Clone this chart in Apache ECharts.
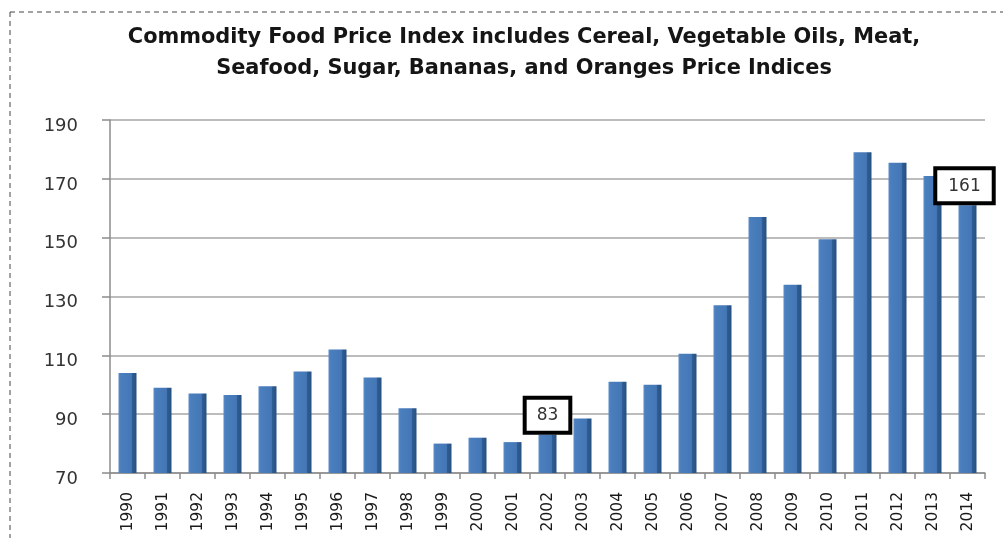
<!DOCTYPE html>
<html>
<head>
<meta charset="utf-8">
<script src="https://cdn.jsdelivr.net/npm/echarts@6/dist/echarts.min.js"></script>
<style>
html,body{margin:0;padding:0;background:#fff;}
#chart{width:1003px;height:538px;}
</style>
</head>
<body>
<div id="chart"></div>
<script>
var titleLines = ['Commodity Food Price Index includes Cereal, Vegetable Oils, Meat,', 'Seafood, Sugar, Bananas, and Oranges Price Indices'];
var years = ['1990','1991','1992','1993','1994','1995','1996','1997','1998','1999','2000','2001','2002','2003','2004','2005','2006','2007','2008','2009','2010','2011','2012','2013','2014'];
var values = [104, 99, 97, 96.5, 99.5, 104.5, 112, 102.5, 92, 80, 82, 80.5, 83, 88.5, 101, 100, 110.5, 127, 157, 134, 149.5, 179, 175.5, 171, 161];
var yTicks = [70, 90, 110, 130, 150, 170, 190];
var annotated = ['2002', '2014'];

var barColor = new echarts.graphic.LinearGradient(0, 0, 1, 0, [
  {offset: 0, color: '#5a8cca'},
  {offset: 0.12, color: '#4a7ebd'},
  {offset: 0.72, color: '#4577b6'},
  {offset: 0.74, color: '#2f5f98'},
  {offset: 1, color: '#27507f'}
]);

var seriesData = values.map(function (v, i) {
  var item = {value: v};
  var idx = annotated.indexOf(years[i]);
  if (idx >= 0) {
    item.label = {
      show: true,
      position: 'top',
      distance: 4,
      offset: idx === 1 ? [-3, 0] : [0, 0],
      formatter: '{c}',
      color: '#333',
      fontFamily: 'DejaVu Sans',
      fontSize: 17,
      lineHeight: 20,
      backgroundColor: '#fff',
      borderColor: '#000',
      borderWidth: 4,
      padding: idx === 1 ? [6, 11, 5, 11] : [6, 10, 5, 10]
    };
  }
  return item;
});

var chart = echarts.init(document.getElementById('chart'), null, {renderer: 'canvas'});
chart.setOption({
  animation: false,
  backgroundColor: '#fff',
  title: {
    text: titleLines.join('\n'),
    left: 519,
    textAlign: 'center',
    top: 17,
    textStyle: {
      fontFamily: 'DejaVu Sans',
      fontWeight: 'bold',
      fontSize: 20.9,
      lineHeight: 31,
      color: '#151515'
    }
  },
  graphic: [
    {type: 'line', shape: {x1: 10, y1: 12, x2: 1003, y2: 12}, style: {stroke: '#444', lineWidth: 1, lineDash: [5, 4]}},
    {type: 'line', shape: {x1: 10, y1: 12, x2: 10, y2: 538}, style: {stroke: '#444', lineWidth: 1, lineDash: [5, 4]}}
  ],
  grid: {left: 110, right: 18, top: 120, bottom: 65, containLabel: false},
  xAxis: {
    type: 'category',
    data: years,
    axisLine: {show: true, lineStyle: {color: '#8c8c8c', width: 1.5}},
    axisTick: {show: true, length: 6, lineStyle: {color: '#8c8c8c', width: 1.5}},
    axisLabel: {
      rotate: 90,
      margin: 19,
      fontFamily: 'DejaVu Sans',
      fontSize: 15.5,
      color: '#1a1a1a'
    }
  },
  yAxis: {
    type: 'value',
    min: yTicks[0],
    max: yTicks[yTicks.length - 1],
    interval: 20,
    axisLine: {show: true, lineStyle: {color: '#8c8c8c', width: 1.5}},
    axisTick: {show: true, length: 8, lineStyle: {color: '#8c8c8c', width: 1.5}},
    axisLabel: {
      margin: 32,
      fontFamily: 'DejaVu Sans',
      fontSize: 18,
      color: '#333',
      verticalAlign: 'top',
      lineHeight: 12
    },
    splitLine: {show: true, lineStyle: {color: '#a6a6a6', width: 1.5}}
  },
  series: [{
    type: 'bar',
    data: seriesData,
    barWidth: 18,
    itemStyle: {color: barColor},
    label: {show: false}
  }]
});
</script>
</body>
</html>
